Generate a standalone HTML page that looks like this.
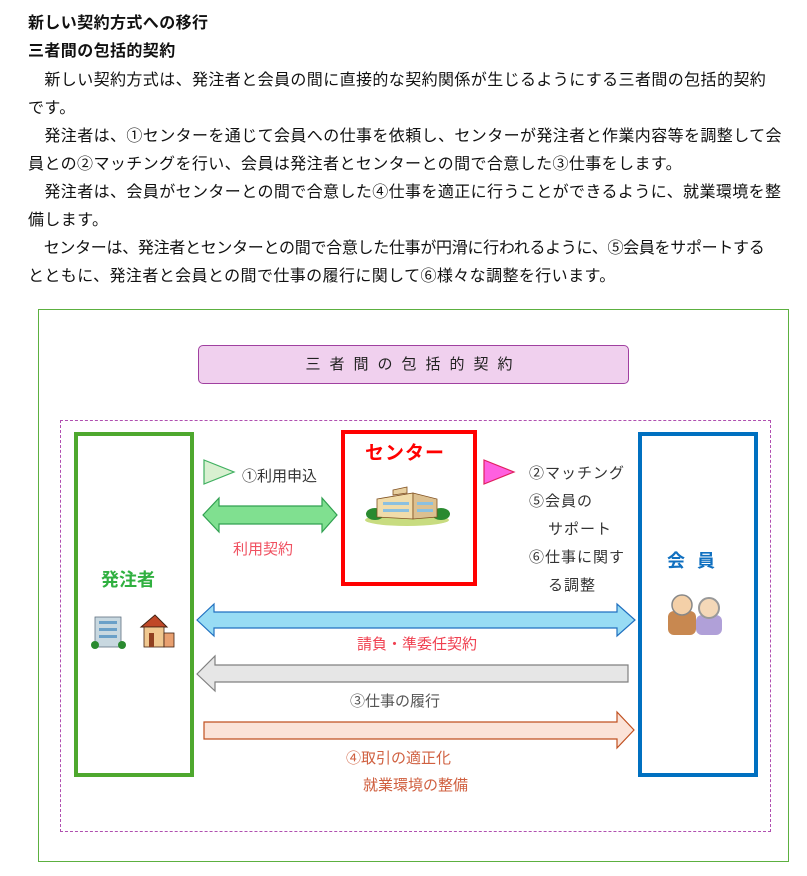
<!DOCTYPE html>
<html><head><meta charset="utf-8"><style>
body{margin:0;width:807px;height:876px;background:#fff;position:relative;overflow:hidden;font-family:"Liberation Sans","Noto Sans CJK JP",sans-serif;color:#111}
.a{position:absolute;white-space:nowrap}
.t{font-size:16px;letter-spacing:0.4px;left:28px}
.b{font-weight:bold}
.box{position:absolute;box-sizing:border-box}
.l{position:absolute;white-space:nowrap;font-size:15px}
</style></head><body>
<div class="a t b" style="top:9px">新しい契約方式への移行</div>
<div class="a t b" style="top:37px">三者間の包括的契約</div>
<div class="a t" style="top:66px">　新しい契約方式は、発注者と会員の間に直接的な契約関係が生じるようにする三者間の包括的契約</div>
<div class="a t" style="top:94px">です。</div>
<div class="a t" style="top:122px">　発注者は、①センターを通じて会員への仕事を依頼し、センターが発注者と作業内容等を調整して会</div>
<div class="a t" style="top:150px">員との②マッチングを行い、会員は発注者とセンターとの間で合意した③仕事をします。</div>
<div class="a t" style="top:178px">　発注者は、会員がセンターとの間で合意した④仕事を適正に行うことができるように、就業環境を整</div>
<div class="a t" style="top:206px">備します。</div>
<div class="a t" style="top:234px;letter-spacing:-0.3px">　センターは、発注者とセンターとの間で合意した仕事が円滑に行われるように、⑤会員をサポートする</div>
<div class="a t" style="top:262px">とともに、発注者と会員との間で仕事の履行に関して⑥様々な調整を行います。</div>

<div class="box" style="left:38px;top:309px;width:751px;height:553px;border:1px solid #5cb040"></div>
<div class="box" style="left:198px;top:345px;width:431px;height:39px;background:#f0d0ee;border:1px solid #a040a0;border-radius:5px;text-align:center;line-height:37px;font-size:15px;letter-spacing:9px;color:#222">三者間の包括的契約</div>
<div class="box" style="left:60px;top:420px;width:711px;height:412px;border:1.5px dashed #b050b0"></div>
<div class="box" style="left:74px;top:432px;width:120px;height:345px;border:4px solid #4ea82e"></div>
<div class="box" style="left:341px;top:430px;width:136px;height:156px;border:4px solid #f00"></div>
<div class="box" style="left:638px;top:432px;width:120px;height:345px;border:4px solid #0070c0"></div>

<svg class="box" style="left:0;top:0" width="807" height="876">
<polygon points="204,460 234,472 204,484" fill="#d8f0d0" stroke="#40b060" stroke-width="1.2"/>
<polygon points="484,460 514,472 484,484" fill="#ff60e0" stroke="#e02060" stroke-width="1.2"/>
<polygon points="203,515 219,498 219,506 322,506 322,498 337,515 322,532 322,524 219,524 219,532" fill="#80e090" stroke="#30a050" stroke-width="1.2"/>
<polygon points="197,620 214,604 214,612 617,612 617,604 635,620 617,636 617,628 214,628 214,636" fill="#98dcf4" stroke="#2070c0" stroke-width="1.2"/>
<polygon points="197,674 215,656 215,665 628,665 628,682 215,682 215,691" fill="#e6e6e6" stroke="#808080" stroke-width="1.2"/>
<polygon points="204,722 617,722 617,712 634,730 617,748 617,739 204,739" fill="#fbe3d8" stroke="#c05020" stroke-width="1.2"/>
<g transform="translate(365,487)">
<ellipse cx="42" cy="33" rx="42" ry="6" fill="#c8dc80"/>
<ellipse cx="10" cy="27" rx="9" ry="6" fill="#2a8a30"/>
<ellipse cx="76" cy="27" rx="9" ry="6" fill="#2a8a30"/>
<polygon points="12,12 48,6 48,32 12,30" fill="#f0dcaa" stroke="#805020" stroke-width=".8"/>
<polygon points="48,6 72,12 72,30 48,32" fill="#dcc090" stroke="#805020" stroke-width=".8"/>
<polygon points="28,3 42,0 42,6 28,8" fill="#e8d0a0" stroke="#805020" stroke-width=".8"/>
<rect x="18" y="15" width="26" height="3" fill="#8ac0e0"/><rect x="18" y="22" width="26" height="3" fill="#8ac0e0"/>
<rect x="52" y="15" width="16" height="3" fill="#8ac0e0"/><rect x="52" y="22" width="16" height="3" fill="#8ac0e0"/>
</g>
<g transform="translate(93,615)">
<rect x="2" y="2" width="26" height="30" fill="#c8d8e0" stroke="#607080" stroke-width=".8"/>
<rect x="6" y="6" width="18" height="3" fill="#6aa0c8"/><rect x="6" y="13" width="18" height="3" fill="#6aa0c8"/><rect x="6" y="20" width="18" height="3" fill="#6aa0c8"/>
<ellipse cx="2" cy="30" rx="4" ry="4" fill="#2a8a30"/><ellipse cx="29" cy="30" rx="4" ry="4" fill="#2a8a30"/>
<polygon points="48,12 62,0 74,12" fill="#c04828" stroke="#402010"/>
<rect x="51" y="12" width="20" height="20" fill="#f0c890" stroke="#402010" stroke-width=".8"/>
<rect x="56" y="18" width="5" height="14" fill="#904020"/>
<rect x="71" y="18" width="10" height="14" fill="#e8a070" stroke="#402010" stroke-width=".8"/>
</g>
<g transform="translate(666,593)">
<rect x="2" y="18" width="28" height="24" rx="6" fill="#c88850"/>
<circle cx="16" cy="12" r="10" fill="#f4d0a8" stroke="#888" stroke-width="1.5"/>
<rect x="30" y="22" width="26" height="20" rx="6" fill="#b0a0d8"/>
<circle cx="43" cy="15" r="10" fill="#f4d8b8" stroke="#999" stroke-width="2"/>
</g>
</svg>

<div class="l" style="left:242px;top:465px;color:#333">①利用申込</div>
<div class="l" style="left:233px;top:538px;color:#f05060">利用契約</div>
<div class="l b" style="left:365px;top:438px;font-size:19px;color:#f00;letter-spacing:1px">センター</div>
<div class="l" style="left:529px;top:462px;color:#333;letter-spacing:1px">②マッチング</div>
<div class="l" style="left:529px;top:490px;color:#333;letter-spacing:1px">⑤会員の</div>
<div class="l" style="left:548px;top:518px;color:#333;letter-spacing:1px">サポート</div>
<div class="l" style="left:529px;top:546px;color:#333;letter-spacing:1px">⑥仕事に関す</div>
<div class="l" style="left:548px;top:574px;color:#333;letter-spacing:1px">る調整</div>
<div class="l b" style="left:101px;top:566px;font-size:18px;color:#30b040">発注者</div>
<div class="l b" style="left:667px;top:547px;font-size:18px;color:#1070c0;letter-spacing:12px">会員</div>
<div class="l" style="left:357px;top:633px;color:#f04050">請負・準委任契約</div>
<div class="l" style="left:350px;top:690px;color:#555">③仕事の履行</div>
<div class="l" style="left:346px;top:747px;color:#d06040">④取引の適正化</div>
<div class="l" style="left:363px;top:774px;color:#d06040">就業環境の整備</div>
</body></html>
